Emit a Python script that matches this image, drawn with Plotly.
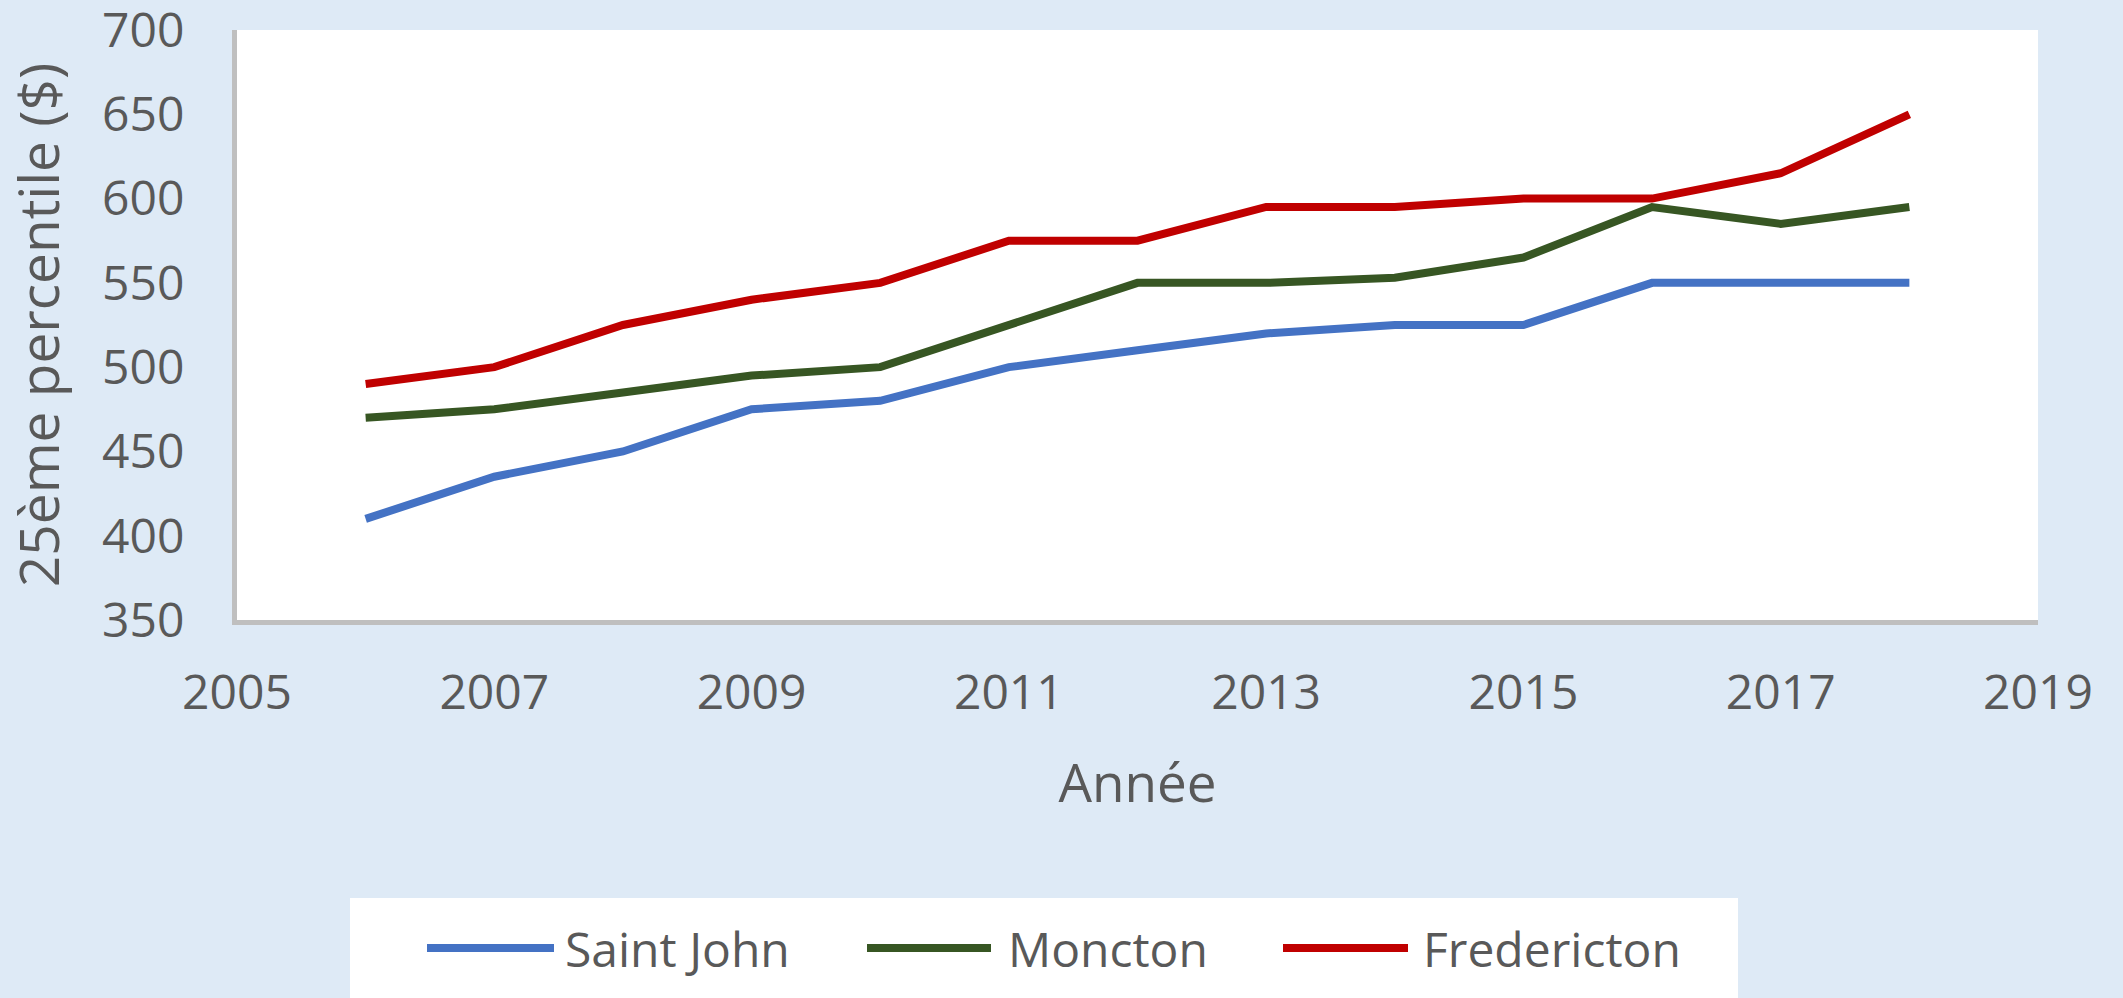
import plotly.graph_objects as go

years = [2006, 2007, 2008, 2009, 2010, 2011, 2012, 2013, 2014, 2015, 2016, 2017, 2018]
saint_john = [410, 435, 450, 475, 480, 500, 510, 520, 525, 525, 550, 550, 550]
moncton = [470, 475, 485, 495, 500, 525, 550, 550, 553, 565, 595, 585, 595]
fredericton = [490, 500, 525, 540, 550, 575, 575, 595, 595, 600, 600, 615, 650]
series_names = ["Saint John", "Moncton", "Fredericton"]
series_colors = ["#4472C4", "#375623", "#C00000"]
x_ticks = [2005, 2007, 2009, 2011, 2013, 2015, 2017, 2019]
y_ticks = [350, 400, 450, 500, 550, 600, 650, 700]

W, H = 2123, 998
L, R, T, B = 237, 2038, 30, 620
BG = "#DEEAF6"
TXT = "#595959"
FONT = "Open Sans"

fig = go.Figure()
for name, vals, col in zip(series_names, [saint_john, moncton, fredericton], series_colors):
    fig.add_trace(go.Scatter(x=years, y=vals, mode="lines", name=name,
                             line=dict(color=col, width=8), showlegend=False,
                             hoverinfo="skip"))

def px_x(x):
    return (x - L) / (R - L)

def px_y(y):
    return (B - y) / (B - T)

shapes = [dict(type="rect", xref="paper", yref="paper", x0=px_x(350), x1=px_x(1738),
               y0=px_y(1010), y1=px_y(898), fillcolor="white", line=dict(width=0), layer="below")]
annotations = []
leg_line_x = [(427, 554), (867, 991), (1283, 1408)]
leg_text_x = [563, 1006, 1421]
leg_y = 948
for name, col, (a, b), tx in zip(series_names, series_colors, leg_line_x, leg_text_x):
    shapes.append(dict(type="line", xref="paper", yref="paper", x0=px_x(a), x1=px_x(b),
                       y0=px_y(leg_y), y1=px_y(leg_y), line=dict(color=col, width=8)))
    annotations.append(dict(text=name, xref="paper", yref="paper", x=px_x(tx), y=px_y(leg_y),
                            xanchor="left", yanchor="middle", showarrow=False,
                            font=dict(family=FONT, size=48, color=TXT)))

fig.update_layout(
    width=W, height=H,
    margin=dict(l=L, r=W - R, t=T, b=H - B, autoexpand=False),
    paper_bgcolor=BG, plot_bgcolor="white",
    font=dict(family=FONT, size=48, color=TXT),
    shapes=shapes, annotations=annotations,
    showlegend=False,
)
fig.update_xaxes(range=[2005, 2019], tickvals=x_ticks, showgrid=False, zeroline=False,
                 showline=True, linecolor="#BFBFBF", linewidth=5, automargin=False,
                 ticks="outside", ticklen=26, tickcolor="rgba(0,0,0,0)",
                 ticklabeloverflow="allow",
                 tickfont=dict(family=FONT, size=48, color=TXT),
                 title=dict(text="Année", standoff=45, font=dict(family=FONT, size=53, color=TXT)))
fig.update_yaxes(range=[350, 700], tickvals=y_ticks, showgrid=False, zeroline=False,
                 showline=True, linecolor="#BFBFBF", linewidth=5, automargin=False,
                 ticks="outside", ticklen=38, tickcolor="rgba(0,0,0,0)",
                 ticklabeloverflow="allow",
                 tickfont=dict(family=FONT, size=48, color=TXT),
                 title=dict(text="25ème percentile ($)", standoff=26, font=dict(family=FONT, size=55, color=TXT)))

fig.write_html("out.html", config={"displayModeBar": False},
               post_script="document.body.style.margin='0';")
